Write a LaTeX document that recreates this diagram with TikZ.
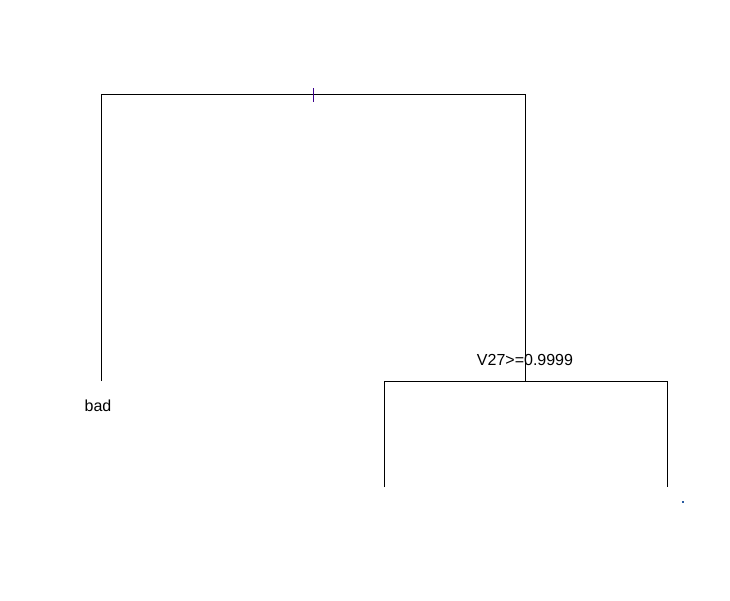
\documentclass[tikz,border=0pt]{standalone}
\usepackage{fontspec}
\setmainfont{Liberation Sans}
\definecolor{tickcol}{RGB}{60,0,140}
\definecolor{dotcol}{RGB}{40,90,160}
\begin{document}
\begin{tikzpicture}[x=1pt,y=-1pt,
  edge/.style={draw=black,line width=1pt},
  lbl/.style={font=\fontsize{16}{18}\selectfont,inner sep=0pt,text=black}]
\useasboundingbox (0,0) rectangle (730,600);
\fill[white] (0,0) rectangle (730,600);
\coordinate (rootL) at (101,94);
\coordinate (rootR) at (525,94);
\coordinate (leafBad) at (101,381);
\coordinate (n2) at (525,381);
\coordinate (n2L) at (384,381);
\coordinate (n2R) at (667,381);
\coordinate (n2Lb) at (384,487);
\coordinate (n2Rb) at (667,487);
\coordinate (tickT) at (313,88);
\coordinate (tickB) at (313,102);
\draw[edge] (leafBad) -- (rootL) -- (rootR) -- (n2);
\draw[edge] (n2Lb) -- (n2L) -- (n2R) -- (n2Rb);
\draw[line width=1pt,draw=tickcol] (tickT) -- (tickB);
\node[lbl] (splitLabel) at (525,360) {V27>=0.9999};
\node[lbl] (badLabel) at (98,406) {bad};
\fill[dotcol] (682,501) rectangle (684,503);
\end{tikzpicture}
\end{document}
